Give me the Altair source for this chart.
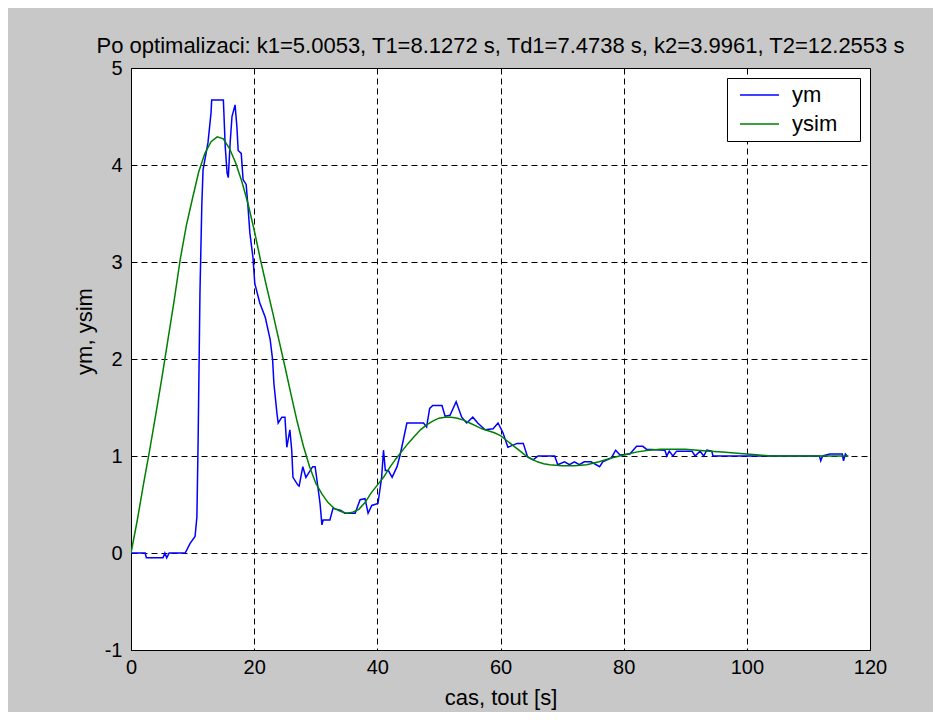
import altair as alt
import pandas as pd

# measured signal ym (time [s], value)
t_ym = [0, 2.3, 2.5, 5.2, 5.5, 5.8, 6.2, 8.8, 9.6, 10.4, 10.7, 10.9, 11.2, 11.5, 11.7, 12.5, 13.0, 13.1, 15.0,
        15.3, 15.6, 15.8, 16.1, 16.4, 16.9, 17.2, 17.4, 17.9, 18.2, 18.7, 19.0, 19.3, 19.8, 20.1, 20.9, 21.8,
        22.6, 23.0, 23.2, 23.7, 23.9, 24.5, 25.0, 25.3, 25.8, 26.1, 26.3, 27.1, 27.3, 27.9, 28.4, 29.5, 29.9,
        30.2, 30.7, 31.0, 31.2, 32.3, 32.8, 34.1, 34.7, 36.4, 37.2, 38.0, 38.5, 39.1, 40.1, 40.7, 41.0, 41.3,
        41.8, 42.4, 43.2, 43.7, 44.2, 44.8, 46.4, 47.5, 48.0, 48.5, 49.0, 50.5, 51.0, 51.8, 52.8, 53.7, 54.5,
        55.5, 56.3, 57.5, 58.8, 59.6, 60.4, 61.2, 62.7, 63.7, 64.4, 65.3, 66.1, 68.8, 69.3, 70.4, 71.2, 72.0,
        72.8, 73.6, 74.7, 76.1, 76.6, 78.0, 78.7, 79.4, 81.0, 82.1, 83.1, 83.7, 86.7, 87.0, 87.4, 88.0, 88.6,
        91.1, 91.6, 92.4, 93.0, 93.5, 94.3, 94.5, 111.8, 112.0, 112.3, 113.5, 115.5, 115.7, 116.0, 116.3]
ym = [0, 0, -0.05, -0.05, 0, -0.05, 0, 0, 0.1, 0.17, 0.37, 1.16, 2.69, 3.59, 3.95, 4.23, 4.54, 4.67, 4.67,
      4.19, 3.92, 3.87, 4.23, 4.5, 4.62, 4.39, 4.15, 4.12, 3.85, 3.8, 3.57, 3.3, 3.05, 2.78, 2.58, 2.43,
      2.2, 1.99, 1.75, 1.44, 1.34, 1.4, 1.4, 1.09, 1.27, 1.06, 0.78, 0.7, 0.69, 0.89, 0.78, 0.89, 0.89,
      0.75, 0.51, 0.29, 0.34, 0.34, 0.46, 0.44, 0.41, 0.41, 0.55, 0.56, 0.41, 0.49, 0.51, 0.78, 1.06, 0.85,
      0.85, 0.78, 0.89, 1.01, 1.16, 1.34, 1.34, 1.34, 1.30, 1.49, 1.52, 1.52, 1.41, 1.42, 1.56, 1.40, 1.34,
      1.40, 1.34, 1.27, 1.28, 1.34, 1.24, 1.09, 1.13, 1.13, 0.99, 0.96, 1.0, 1.0, 0.91, 0.94, 0.91, 0.94,
      0.91, 0.94, 0.94, 0.89, 0.94, 0.98, 1.06, 1.01, 1.02, 1.10, 1.10, 1.07, 1.06, 1.0, 1.05, 1.0, 1.05,
      1.05, 1.0, 1.05, 1.0, 1.06, 1.05, 1.0, 1.0, 0.95, 1.0, 1.02, 1.02, 0.95, 1.02, 1.0]

# simulated model output ysim
t_sim = [0, 1, 2, 3, 4, 5, 6, 7, 8, 9, 10, 11, 12, 13, 14, 15, 16, 17, 18, 19, 20, 21, 22, 23, 24, 25, 26,
         27, 28, 29, 30, 31, 32, 33, 34, 35, 36, 37, 38, 39, 40, 41, 42, 43, 44, 45, 46, 47, 48, 49, 50, 51,
         52, 53, 54, 55, 56, 57, 58, 59, 60, 61, 62, 63, 64, 65, 66, 67, 68, 70, 72, 74, 76, 78, 80, 82, 84,
         86, 88, 90, 92, 94, 96, 98, 100, 102, 104, 116.5]
ysim = [0, 0.33, 0.70, 1.05, 1.42, 1.80, 2.20, 2.60, 3.03, 3.38, 3.66, 3.93, 4.12, 4.24, 4.29, 4.27, 4.17,
        4.02, 3.83, 3.60, 3.33, 3.03, 2.75, 2.48, 2.20, 1.92, 1.63, 1.35, 1.10, 0.89, 0.72, 0.61, 0.52, 0.46,
        0.43, 0.41, 0.42, 0.45, 0.52, 0.62, 0.70, 0.78, 0.88, 0.97, 1.05, 1.13, 1.20, 1.27, 1.32, 1.36, 1.39,
        1.40, 1.40, 1.39, 1.37, 1.34, 1.31, 1.28, 1.26, 1.24, 1.21, 1.16, 1.11, 1.06, 1.01, 0.97, 0.94, 0.92,
        0.91, 0.90, 0.90, 0.91, 0.94, 0.98, 1.01, 1.04, 1.06, 1.07, 1.07, 1.07, 1.06, 1.05, 1.04, 1.03, 1.02,
        1.01, 1.00, 1.00]

series = ["ym", "ysim"]
colors = ["#0000ff", "#008000"]
x_ticks = [0, 20, 40, 60, 80, 100, 120]
y_ticks = [-1, 0, 1, 2, 3, 4, 5]
title_text = "Po optimalizaci: k1=5.0053, T1=8.1272 s, Td1=7.4738 s, k2=3.9961, T2=12.2553 s"
x_title = "cas, tout [s]"
y_title = "ym, ysim"

df = pd.concat([
    pd.DataFrame({"t": t_ym, "y": ym, "s": series[0]}),
    pd.DataFrame({"t": t_sim, "y": ysim, "s": series[1]}),
], ignore_index=True)

FONT = "Liberation Sans"

axis_common = dict(
    grid=True, gridColor="black", gridDash=[6, 4], gridWidth=1, gridOpacity=1,
    domain=False, ticks=False, labelFont=FONT, labelFontSize=20, labelColor="black",
    titleFont=FONT, titleFontSize=22, titleFontWeight="normal", titleColor="black",
    labelExpr="toString(datum.value)",
)

chart = alt.Chart(df).mark_line(strokeWidth=1.5, clip=True).encode(
    x=alt.X("t:Q", scale=alt.Scale(domain=[0, 120], nice=False, zero=False),
            axis=alt.Axis(values=x_ticks, title=x_title, labelFlush=False, labelPadding=7,
                          titlePadding=10, **axis_common)),
    y=alt.Y("y:Q", scale=alt.Scale(domain=[-1, 5], nice=False, zero=False),
            axis=alt.Axis(values=y_ticks, title=y_title, labelPadding=9, titlePadding=8,
                          titleY=263, **axis_common)),
    color=alt.Color("s:N", scale=alt.Scale(domain=series, range=colors),
                    legend=alt.Legend(title=None, orient="none", legendX=596, legendY=10,
                                      fillColor="white", strokeColor="black", padding=6,
                                      cornerRadius=0, rowPadding=7,
                                      symbolType="M-0.4,0H3.5", symbolSize=400,
                                      symbolStrokeWidth=1.5, labelOffset=37,
                                      labelFont=FONT, labelFontSize=22, labelColor="black",
                                      labelExpr="datum.label + '\u2800'")),
    order=alt.Order("t:Q"),
).properties(
    width=739, height=582,
    title=alt.TitleParams(title_text, font=FONT, fontSize=22, fontWeight="normal", color="black",
                          anchor="middle", baseline="alphabetic", offset=14, frame="group", dy=31),
    autosize=alt.AutoSizeParams(type="none"),
    padding={"left": 123, "top": 60, "right": 63, "bottom": 62},
).configure(background="#c8c8c8").configure_view(stroke="black", strokeWidth=1, fill="white")

chart.save("out.html", embed_options={"renderer": "svg", "actions": False})
